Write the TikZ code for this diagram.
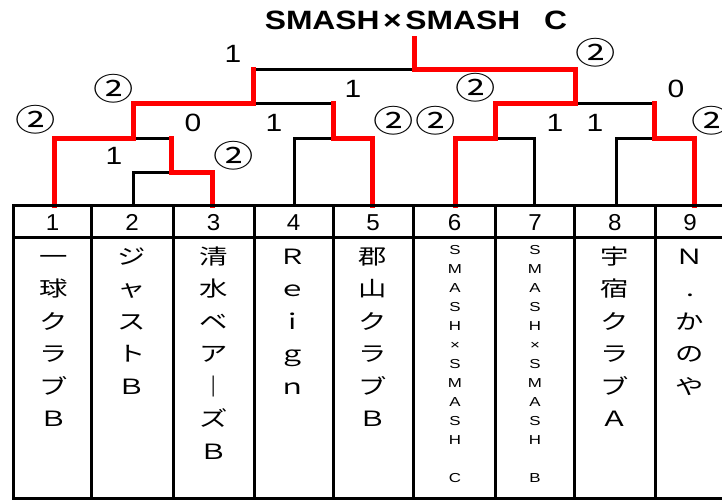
\documentclass[tikz,border=0pt]{standalone}
\usepackage{fontspec}
\usepackage{graphicx}
\newfontfamily\lib{Liberation Sans}
\newfontfamily\cjk{Noto Sans CJK JP}
\newcommand\stackcol[1]{\begin{tabular}{@{}c@{}}#1\end{tabular}}
\begin{document}
\begin{tikzpicture}[x=1pt,y=-1pt,
  bk/.style={line width=3pt, black, line cap=rect},
  rd/.style={line width=5pt, red, line cap=rect},
  tbl/.style={line width=3pt, black},
  score/.style={inner sep=0pt, font=\lib\fontsize{25}{25}\selectfont, xscale=1.2},
  circ/.style={inner sep=0pt, font=\cjk\fontsize{31}{31}\selectfont, xscale=1.3},
  num/.style={inner sep=0pt, anchor=base, font=\lib\fontsize{23}{23}\selectfont, xscale=1.05},
  team/.style={inner sep=0pt, anchor=north, font=\cjk\fontsize{21}{32.5}\selectfont, xscale=1.35},
  small/.style={inner sep=0pt, anchor=north, font=\lib\fontsize{13}{19}\selectfont, xscale=1.3},
]
\useasboundingbox (0,0) rectangle (722,500);
\fill[white] (0,0) rectangle (722,500);

% title
\node[inner sep=0pt, font=\lib\bfseries\fontsize{26.5}{26.5}\selectfont, xscale=1.2] (title) at (416,20) {SMASH\hspace{3pt}×\hspace{3pt}SMASH\hspace{20pt}C};

% bracket coordinates
\coordinate (t1) at (54.5,205);
\coordinate (t2) at (133.5,205);
\coordinate (t3) at (212.5,205);
\coordinate (t4) at (294.5,205);
\coordinate (t5) at (372.5,205);
\coordinate (t6) at (455.5,205);
\coordinate (t7) at (534,205);
\coordinate (t8) at (616.5,205);
\coordinate (t9) at (694.5,205);
\coordinate (r23) at (171.5,172.5);
\coordinate (q1) at (133.5,138.5);
\coordinate (q45) at (333,138.5);
\coordinate (sL) at (253.5,104);
\coordinate (q67) at (495.5,138.5);
\coordinate (q89) at (654.5,138.5);
\coordinate (sR) at (575.5,104);
\coordinate (f) at (414.5,70);
\coordinate (champ) at (414.5,39);

% black (losing) lines
\draw[bk] (t2) |- (r23);
\draw[bk] (q1) -- (r23 |- q1);
\draw[bk] (t4) |- (q45);
\draw[bk] (sL) -- (q45 |- sL);
\draw[bk] (sL |- f) -- (f);
\draw[bk] (q67) -| (t7);
\draw[bk] (t8) |- (q89);
\draw[bk] (sR) -- (q89 |- sR);

% red (winning) lines
\draw[rd] (t1) |- (q1) |- (sL) -- (sL |- f);
\draw[rd] (t3) |- (r23) -- (r23 |- q1);
\draw[rd] (t5) |- (q45) -- (q45 |- sL);
\draw[rd] (t6) |- (q67) |- (sR) |- (f) -- (champ);
\draw[rd] (t9) |- (q89) -- (q89 |- sR);

% table
\draw[tbl] (13.5,205.5) rectangle (726,498);
\draw[tbl] (13.5,237.5) -- (726,237.5);
\foreach \x in {91.5,173,254,333,413.5,495.5,574.5,655}
  \draw[tbl] (\x,205.5) -- (\x,498);

% header numbers
\node[num] (n1) at (52.5,230.5) {1};
\node[num] (n2) at (132,230.5) {2};
\node[num] (n3) at (213.5,230.5) {3};
\node[num] (n4) at (293.5,230.5) {4};
\node[num] (n5) at (373,230.5) {5};
\node[num] (n6) at (454.5,230.5) {6};
\node[num] (n7) at (535,230.5) {7};
\node[num] (n8) at (614.75,230.5) {8};
\node[num] (n9) at (690,230.5) {9};

% team names
\node[team] (c1) at (53.5,241.25) {\stackcol{一\\球\\ク\\ラ\\ブ\\Ｂ}};
\node[team] (c2) at (132,241.25) {\stackcol{ジ\\ャ\\ス\\ト\\Ｂ}};
\node[team] (c3) at (213.5,241.25) {\stackcol{清\\水\\ベ\\ア\\｜\\ズ\\Ｂ}};
\node[team] (c4) at (293,241.25) {\stackcol{Ｒ\\ｅ\\ｉ\\ｇ\\ｎ}};
\node[team] (c5) at (373,241.25) {\stackcol{郡\\山\\ク\\ラ\\ブ\\Ｂ}};
\node[small] (c6) at (455,240.5) {\stackcol{S\\M\\A\\S\\H\\×\\S\\M\\A\\S\\H\\\\C}};
\node[small] (c7) at (535,240.5) {\stackcol{S\\M\\A\\S\\H\\×\\S\\M\\A\\S\\H\\\\B}};
\node[team] (c8) at (615,241.25) {\stackcol{宇\\宿\\ク\\ラ\\ブ\\Ａ}};
\node[team] (c9) at (690,241.25) {\stackcol{Ｎ\\.\\か\\の\\や}};

% scores
\node[score] (a1) at (233,54) {1};
\node[circ] (a2) at (596,53) {②};
\node[circ] (b1) at (114,88.5) {②};
\node[score] (b2) at (353,89) {1};
\node[circ] (b3) at (476,87.5) {②};
\node[score] (b4) at (676,88.5) {0};
\node[circ] (e1) at (36,120) {②};
\node[score] (e2) at (193,122.5) {0};
\node[score] (e3) at (274,122.5) {1};
\node[circ] (e4) at (394,121) {②};
\node[circ] (e5) at (436,121) {②};
\node[score] (e6) at (555,122.5) {1};
\node[score] (e7) at (595,122.5) {1};
\node[circ] (e8) at (712,121) {②};
\node[score] (d1) at (114,156) {1};
\node[circ] (d2) at (234,155.5) {②};
\end{tikzpicture}
\end{document}
